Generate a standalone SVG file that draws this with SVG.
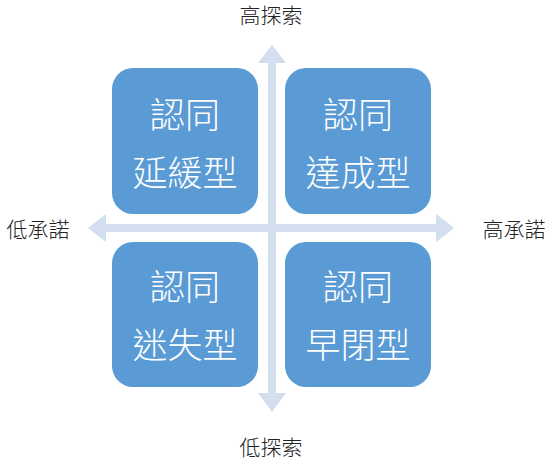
<svg xmlns="http://www.w3.org/2000/svg" width="553" height="461" viewBox="0 0 553 461">
  <style>
    .box { fill: #5B9BD5; }
    .btxt { fill: #FFFFFF; font-family: "Noto Sans CJK TC", "Noto Sans CJK SC", sans-serif; font-weight: 300; font-size: 35px; text-anchor: middle; dominant-baseline: central; }
    .lbl { fill: #222222; font-family: "Noto Sans CJK TC", "Noto Sans CJK SC", sans-serif; font-weight: 300; font-size: 21px; text-anchor: middle; dominant-baseline: central; }
    .axis { fill: #D3DEEE; }
  </style>
  <rect width="553" height="461" fill="#FFFFFF"/>
  <g id="axes">
    <rect class="axis" x="268" y="62" width="8" height="332"/>
    <polygon class="axis" points="272,45 286,63 258,63"/>
    <polygon class="axis" points="272,412 286,393 258,393"/>
    <rect class="axis" x="104" y="224" width="334" height="8"/>
    <polygon class="axis" points="88,228 106,214 106,242"/>
    <polygon class="axis" points="454,228 436,214 436,242"/>
  </g>
  <g id="node-delay">
    <rect class="box" x="112" y="68" width="146" height="146" rx="21"/>
    <text class="btxt" x="185" y="112">認同</text>
    <text class="btxt" x="185" y="170">延緩型</text>
  </g>
  <g id="node-achieve">
    <rect class="box" x="285" y="68" width="146" height="146" rx="21"/>
    <text class="btxt" x="358" y="112">認同</text>
    <text class="btxt" x="358" y="170">達成型</text>
  </g>
  <g id="node-diffuse">
    <rect class="box" x="112" y="242" width="146" height="145" rx="21"/>
    <text class="btxt" x="185" y="284">認同</text>
    <text class="btxt" x="185" y="342">迷失型</text>
  </g>
  <g id="node-foreclose">
    <rect class="box" x="285" y="242" width="146" height="145" rx="21"/>
    <text class="btxt" x="358" y="284">認同</text>
    <text class="btxt" x="358" y="342">早閉型</text>
  </g>
  <g id="labels">
    <text class="lbl" x="271" y="14">高探索</text>
    <text class="lbl" x="271" y="446">低探索</text>
    <text class="lbl" x="38" y="228">低承諾</text>
    <text class="lbl" x="514" y="228">高承諾</text>
  </g>
</svg>
